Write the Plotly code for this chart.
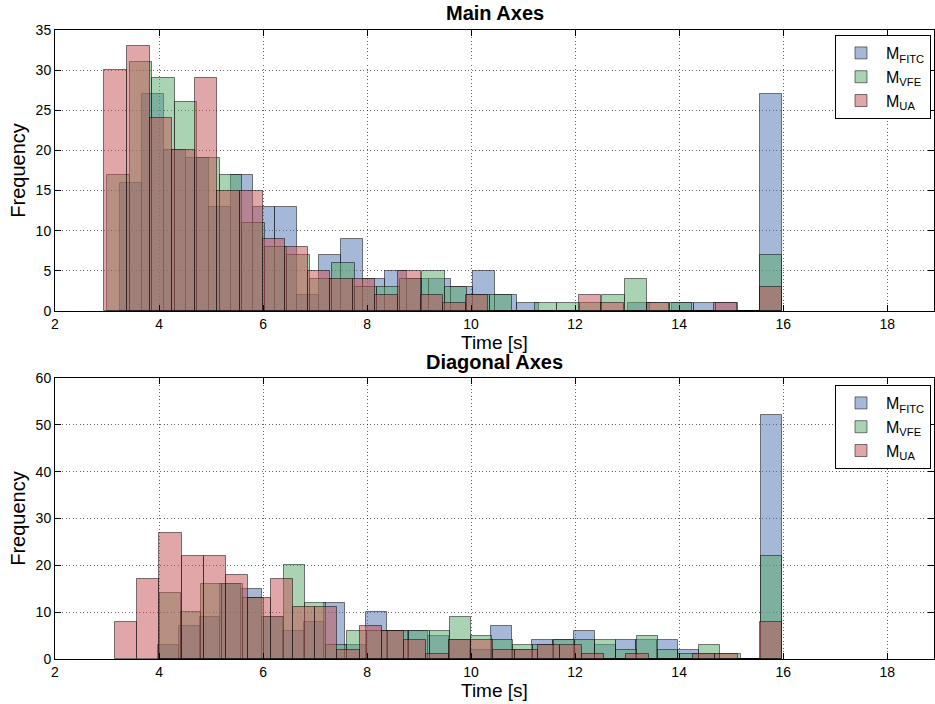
import numpy as np
import plotly.graph_objects as go

# ---------------- data (histogram counts, 30 bins per series) ----------------
series_names = ["M<sub>FITC</sub>", "M<sub>VFE</sub>", "M<sub>UA</sub>"]

# Main Axes
main_fitc = [16, 27, 20, 19, 13, 17, 13, 13, 2, 7, 9, 4, 5, 4, 4, 3, 5, 2, 1, 0, 0, 0, 0, 1, 0, 1, 1, 1, 0, 27]
main_vfe = [17, 31, 29, 26, 19, 17, 11, 8, 7, 4, 6, 3, 3, 4, 5, 3, 2, 2, 0, 1, 1, 1, 2, 4, 1, 1, 0, 0, 0, 7]
main_ua = [30, 33, 24, 20, 29, 15, 15, 9, 8, 5, 4, 4, 2, 5, 2, 1, 2, 0, 0, 0, 0, 2, 1, 0, 1, 0, 0, 1, 0, 3]
main_bin_ranges = [(3.255, 15.98), (3.009, 15.98), (2.949, 15.98)]

# Diagonal Axes
diag_fitc = [3, 7, 9, 16, 15, 9, 6, 8, 12, 3, 10, 6, 6, 5, 4, 2, 7, 2, 4, 4, 6, 3, 4, 4, 4, 2, 1, 0, 0, 52]
diag_vfe = [14, 10, 16, 16, 13, 9, 20, 12, 3, 6, 6, 6, 6, 6, 9, 5, 4, 3, 3, 4, 4, 4, 2, 5, 2, 1, 3, 1, 0, 22]
diag_ua = [8, 17, 27, 22, 22, 18, 13, 17, 11, 11, 2, 7, 6, 4, 1, 4, 4, 2, 2, 3, 3, 1, 0, 1, 0, 0, 1, 1, 0, 8]
diag_bin_ranges = [(3.979, 15.98), (4.017, 15.98), (3.153, 15.98)]

x_ticks = [2, 4, 6, 8, 10, 12, 14, 16, 18]
panel_titles = ["Main Axes", "Diagonal Axes"]
x_title = "Time [s]"
y_title = "Frequency"

# ---------------- styling ----------------
fills = ["rgba(76,114,176,0.5)", "rgba(85,168,104,0.5)", "rgba(196,78,82,0.5)"]
edge = "rgba(0,0,0,0.5)"
FONT = "Liberation Sans, Arial, Helvetica, sans-serif"

fig = go.Figure()

panels = [
    ([main_fitc, main_vfe, main_ua], main_bin_ranges, "x", "y", "legend"),
    ([diag_fitc, diag_vfe, diag_ua], diag_bin_ranges, "x2", "y2", "legend2"),
]
for counts_list, ranges, xa, ya, leg in panels:
    for i, (counts, (lo, hi)) in enumerate(zip(counts_list, ranges)):
        edges = np.linspace(lo, hi, len(counts) + 1)
        centers = (edges[:-1] + edges[1:]) / 2
        w = edges[1] - edges[0]
        fig.add_trace(go.Bar(
            x=centers, y=counts, width=w,
            name=series_names[i],
            marker=dict(color=fills[i], line=dict(color=edge, width=1)),
            xaxis=xa, yaxis=ya, legend=leg,
            hoverinfo="x+y+name",
        ))

axis_common = dict(
    showline=True, linecolor="black", linewidth=1, mirror="allticks",
    ticks="inside", ticklen=6, tickcolor="black",
    showgrid=True, gridcolor="rgba(0,0,0,0.6)", gridwidth=1, griddash="1px,2.5px",
    zeroline=False, tickfont=dict(size=14, family=FONT, color="black"),
)

top_dom = [0.5533, 1.0]
bot_dom = [0.0, 0.4467]

legend_common = dict(x=0.9966, xanchor="right", yanchor="top",
                     bordercolor="black", borderwidth=1, bgcolor="white",
                     font=dict(size=16, family=FONT), tracegroupgap=0,
                     itemwidth=40)

fig.update_layout(
    width=935, height=704,
    margin=dict(l=55, r=1, t=30, b=45),
    barmode="overlay", bargap=0,
    plot_bgcolor="white", paper_bgcolor="white",
    font=dict(family=FONT, color="black", size=14),
    xaxis=dict(axis_common, domain=[0, 1], anchor="y", range=[2, 18.9], tickvals=x_ticks),
    yaxis=dict(axis_common, domain=top_dom, anchor="x", range=[0, 35], dtick=5,
               title=dict(text=y_title, font=dict(size=20), standoff=4)),
    xaxis2=dict(axis_common, domain=[0, 1], anchor="y2", range=[2, 18.9], tickvals=x_ticks),
    yaxis2=dict(axis_common, domain=bot_dom, anchor="x2", range=[0, 60], dtick=10,
                title=dict(text=y_title, font=dict(size=20), standoff=4)),
    legend=dict(legend_common, y=0.992),
    legend2=dict(legend_common, y=0.4356),
    showlegend=True,
    annotations=[
        dict(text="<b>%s</b>" % panel_titles[0], x=0.5, y=top_dom[1], xref="paper", yref="paper",
             xanchor="center", yanchor="bottom", yshift=4, showarrow=False,
             font=dict(size=20, family=FONT)),
        dict(text="<b>%s</b>" % panel_titles[1], x=0.5, y=bot_dom[1], xref="paper", yref="paper",
             xanchor="center", yanchor="bottom", yshift=3, showarrow=False,
             font=dict(size=20, family=FONT)),
        dict(text=x_title, x=0.5, y=top_dom[0], xref="paper", yref="paper",
             xanchor="center", yanchor="top", yshift=-19, showarrow=False,
             font=dict(size=19, family=FONT)),
        dict(text=x_title, x=0.5, y=bot_dom[0], xref="paper", yref="paper",
             xanchor="center", yanchor="top", yshift=-19, showarrow=False,
             font=dict(size=19, family=FONT)),
    ],
)

fig.write_html("out.html")
